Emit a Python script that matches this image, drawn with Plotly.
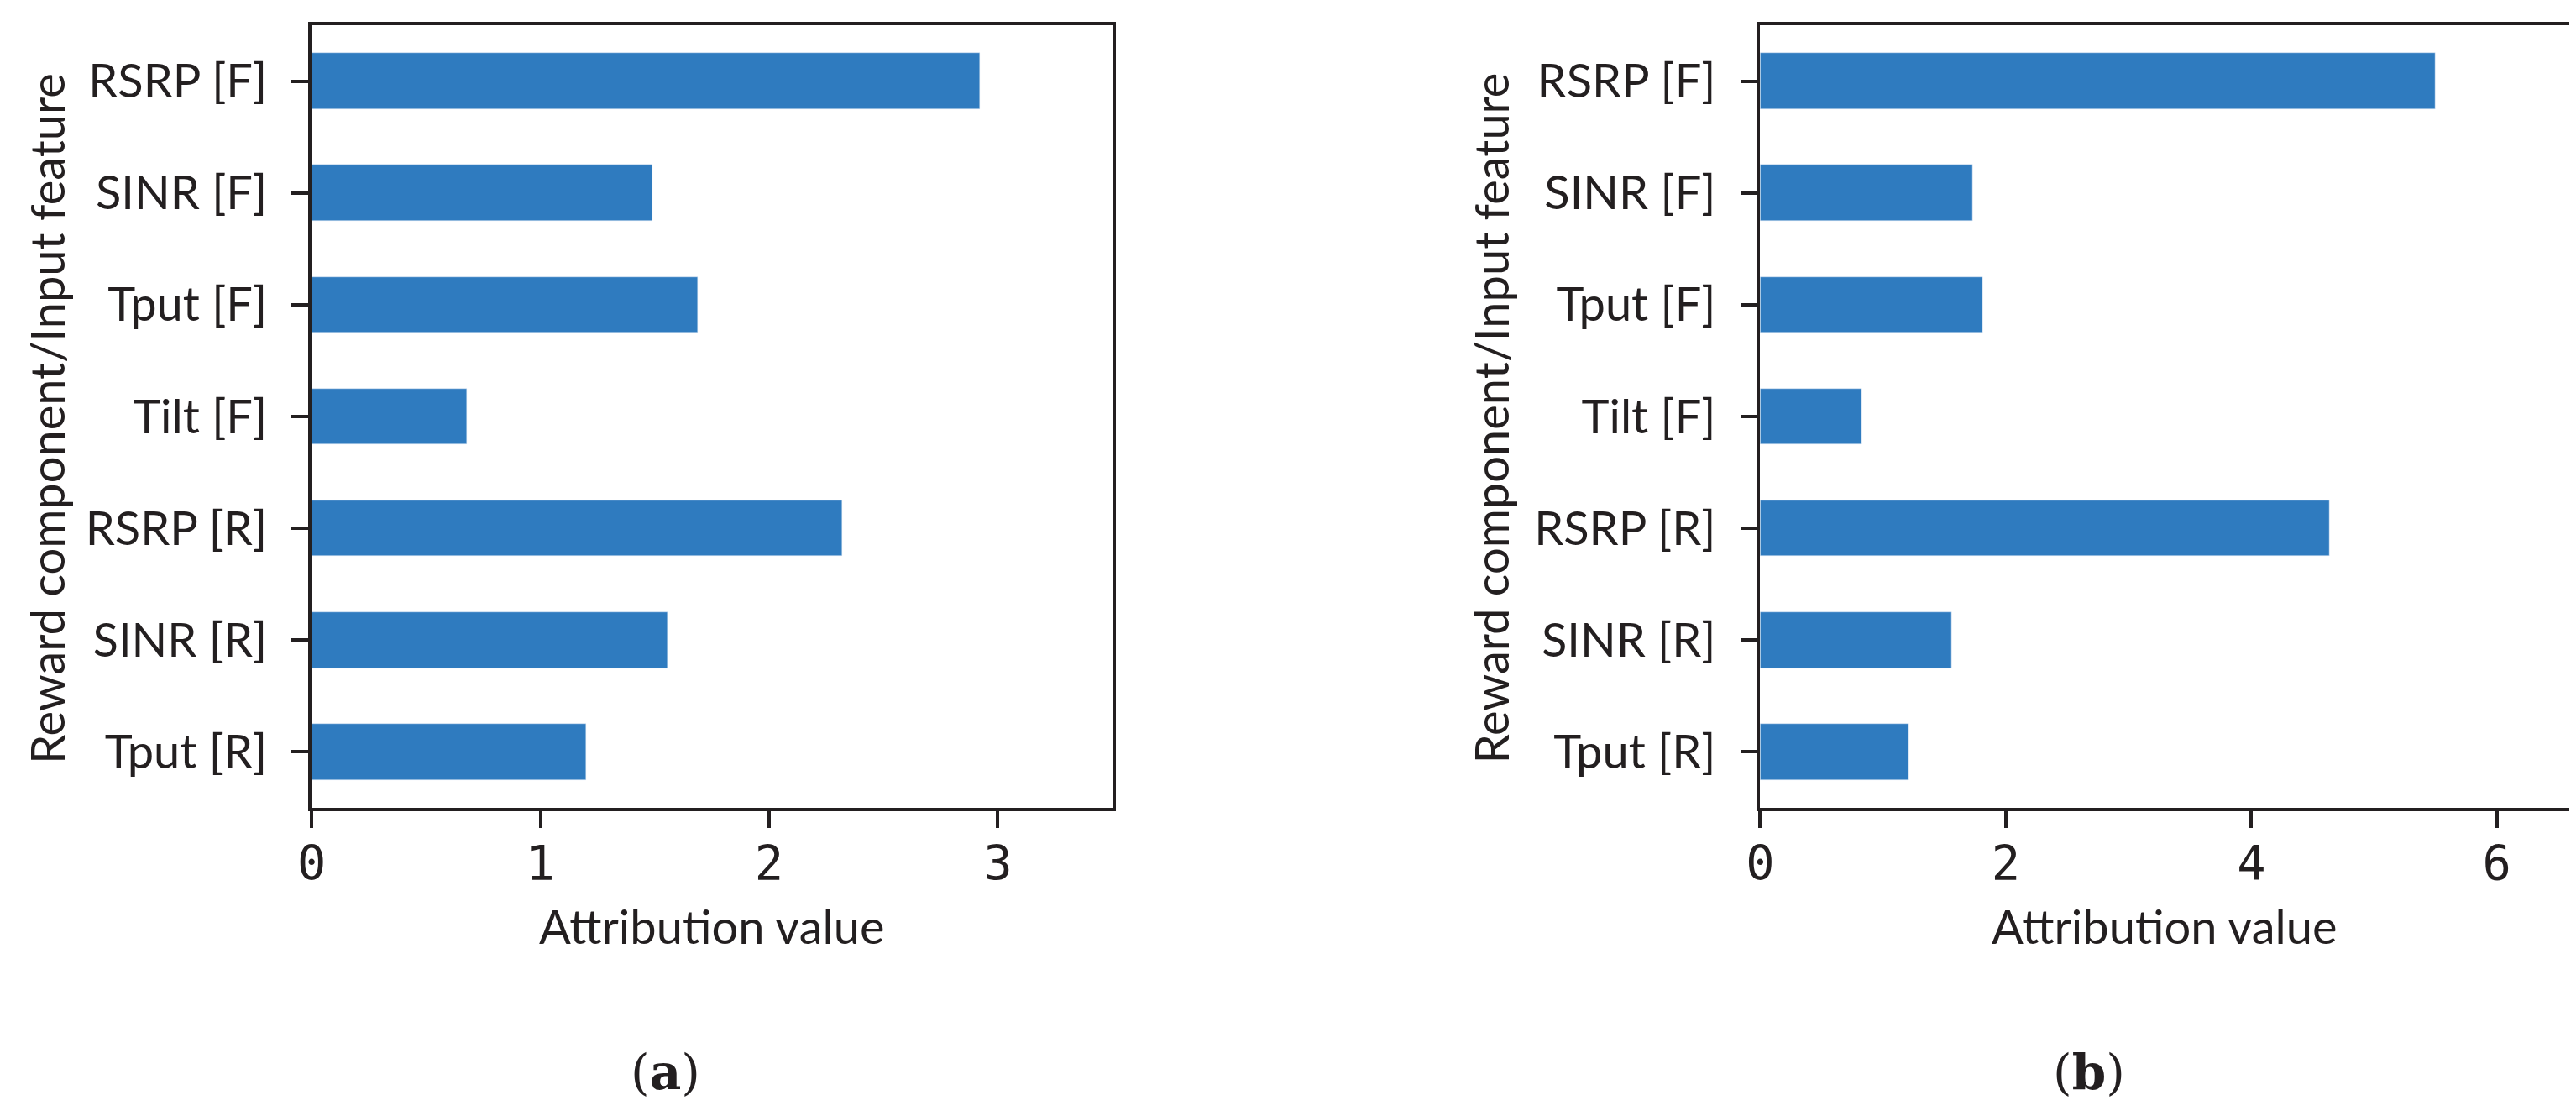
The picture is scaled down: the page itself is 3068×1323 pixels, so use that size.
import plotly.graph_objects as go

categories = ["RSRP [F]", "SINR [F]", "Tput [F]", "Tilt [F]", "RSRP [R]", "SINR [R]", "Tput [R]"]
values_a = [2.92, 1.49, 1.69, 0.68, 2.32, 1.555, 1.20]
values_b = [5.50, 1.73, 1.81, 0.83, 4.64, 1.56, 1.21]
ticks_a = [0, 1, 2, 3]
ticks_b = [0, 2, 4, 6]
xmax_a = 3.5
xmax_b = 6.59
captions = ["(<b>a</b>)", "(<b>b</b>)"]

BAR = "#2f7bbf"
INK = "#231f20"
OFF = 8  # default page body margin
W, H = 3068 - OFF, 1323 - OFF


def px(X):
    return (X - OFF) / W


def py(Y):
    return 1 - (Y - OFF) / H


fig = go.Figure()
fig.add_trace(go.Bar(x=values_a, y=categories, orientation="h", marker_color=BAR,
                     width=0.5, xaxis="x", yaxis="y", showlegend=False))
fig.add_trace(go.Bar(x=values_b, y=categories, orientation="h", marker_color=BAR,
                     width=0.5, xaxis="x2", yaxis="y2", showlegend=False))

ydom = [py(962), py(30)]
xd1 = [px(356), px(1315)]
xd2 = [px(2091), px(3060)]

lab_font = dict(family="Lato, Open Sans, sans-serif", size=56, color=INK)
num_font = dict(family="DejaVu Sans Mono, monospace", size=57, color=INK)

common_x = dict(showgrid=False, zeroline=False, showline=True, linecolor=INK, linewidth=3.5,
                mirror=True, ticks="outside", ticklen=20, tickwidth=3.5, tickcolor=INK,
                tickfont=num_font, ticklabelstandoff=-6)
common_y = dict(showgrid=False, zeroline=False, showline=True, linecolor=INK, linewidth=3.5,
                mirror=True, ticks="outside", ticklen=20, tickwidth=3.5, tickcolor=INK,
                tickfont=lab_font, range=[6.5, -0.5], type="category",
                categoryorder="array", categoryarray=categories, ticklabelstandoff=18)

fig.update_layout(
    width=W, height=H, margin=dict(l=0, r=0, t=0, b=0),
    paper_bgcolor="white", plot_bgcolor="white", bargap=0,
    xaxis=dict(domain=xd1, range=[0, xmax_a], tickvals=ticks_a, anchor="y", **common_x),
    yaxis=dict(domain=ydom, anchor="x", **common_y),
    xaxis2=dict(domain=xd2, range=[0, xmax_b], tickvals=ticks_b, anchor="y2", **common_x),
    yaxis2=dict(domain=ydom, anchor="x2", **common_y),
)

ann = []
for X0, X1, TX in [(356, 1315, 38), (2091, 3060, 1768)]:
    ann.append(dict(text="Attribution value", x=px((X0 + X1) / 2), y=py(1102), xref="paper", yref="paper",
                    showarrow=False, font=lab_font, xanchor="center", yanchor="middle"))
    ann.append(dict(text="Reward component/Input feature", x=px(TX), y=py(498),
                    xref="paper", yref="paper", showarrow=False, font=lab_font, textangle=-90,
                    xanchor="center", yanchor="middle"))
cap_font = dict(family="DejaVu Serif, serif", size=58, color=INK)
ann.append(dict(text=captions[0], x=px(780), y=py(1277), xref="paper", yref="paper", showarrow=False,
                font=cap_font, xanchor="center", yanchor="middle"))
ann.append(dict(text=captions[1], x=px(2485), y=py(1277), xref="paper", yref="paper", showarrow=False,
                font=cap_font, xanchor="center", yanchor="middle"))
fig.update_layout(annotations=ann)

fig.write_html("out.html")
